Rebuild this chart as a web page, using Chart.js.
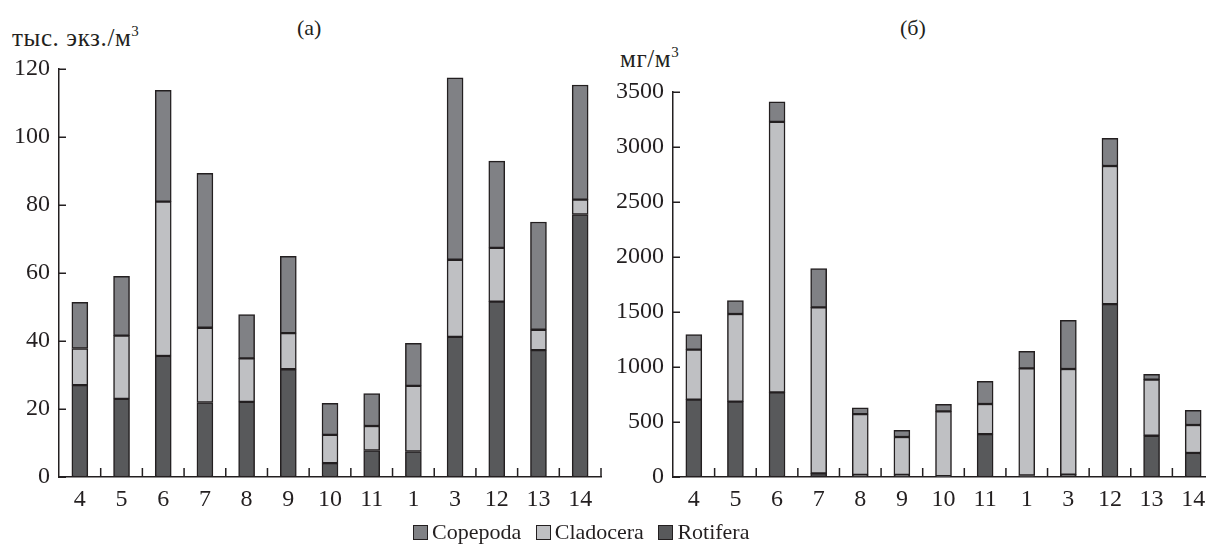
<!DOCTYPE html>
<html>
<head>
<meta charset="utf-8">
<script src="https://cdn.jsdelivr.net/npm/chart.js@4.4.1/dist/chart.umd.min.js"></script>
<style>
  html, body { margin: 0; padding: 0; background: #fff; }
  body { position: relative; width: 1206px; height: 545px; overflow: hidden;
         font-family: "Liberation Serif", "Times New Roman", serif; color: #231f20; }
  canvas { position: absolute; top: 0; }
  .lbl { position: absolute; font-size: 22px; line-height: 1; white-space: nowrap; }
  .unit { font-size: 25px; letter-spacing: 0.6px; }
  .lbl sup { font-size: 15px; vertical-align: 0; position: relative; top: -10px; }
  #legend { position: absolute; left: 413px; top: 520px; font-size: 22px; line-height: 24px; white-space: nowrap; }
  #legend span.box { display: inline-block; width: 13px; height: 13px; border: 1.5px solid #231f20;
                     vertical-align: -1px; margin-right: 4px; }
  #legend span.item { margin-right: 9px; }
</style>
</head>
<body>
<div class="lbl" style="left:297px; top:17px;">(a)</div>
<div class="lbl" style="left:900px; top:17px;">(б)</div>
<div class="lbl unit" style="left:12px; top:25px;">тыс. экз./м<sup>3</sup></div>
<div class="lbl unit" style="left:620px; top:46px;">мг/м<sup>3</sup></div>

<canvas id="chartA" width="610" height="545" style="left:0"></canvas>
<canvas id="chartB" width="620" height="545" style="left:600px"></canvas>

<div id="legend">
  <span class="item"><span class="box" style="background:#808185"></span>Copepoda</span>
  <span class="item"><span class="box" style="background:#bfc0c3"></span>Cladocera</span>
  <span class="item"><span class="box" style="background:#58595b"></span>Rotifera</span>
</div>

<script>
'use strict';

// station order as on the figure
const stations = ['4', '5', '6', '7', '8', '9', '10', '11', '1', '3', '12', '13', '14'];

// (a) abundance, thousand ind./m3
const abundRotifera  = [27.0, 23.0, 35.6, 21.9, 22.1, 31.7, 4.1, 7.8, 7.5, 41.2, 51.6, 37.3, 77.2];
const abundCladocera = [10.8, 18.6, 45.4, 22.0, 12.8, 10.6, 8.3, 7.2, 19.3, 22.7, 15.8, 6.0, 4.4];
const abundCopepoda  = [13.6, 17.4, 32.7, 45.4, 12.9, 22.6, 9.3, 9.5, 12.5, 53.5, 25.5, 31.7, 33.7];

// (б) biomass, mg/m3
const biomRotifera  = [703, 685, 770, 33, 20, 20, 8, 390, 14, 22, 1572, 375, 218];
const biomCladocera = [455, 797, 2458, 1509, 551, 344, 589, 274, 974, 960, 1255, 510, 255];
const biomCopepoda  = [136, 121, 183, 352, 57, 60, 64, 206, 154, 442, 252, 48, 133];

const INK = '#231f20';
const COLORS = { Copepoda: '#808185', Cladocera: '#bfc0c3', Rotifera: '#58595b' };

Chart.defaults.font.family = '"Liberation Serif", "Times New Roman", serif';
Chart.defaults.color = INK;

/* ---------------------------------------------------------------
   small ticks drawn inwards (y values and category boundaries)
--------------------------------------------------------------- */
const innerTicks = {
  id: 'innerTicks',
  afterDraw(chart) {
    const { ctx, chartArea } = chart;
    const x = chart.scales.x;
    const y = chart.scales.y;
    ctx.save();
    ctx.strokeStyle = INK;
    ctx.lineWidth = 1.5;
    ctx.beginPath();
    y.ticks.forEach((t, i) => {
      const py = Math.round(y.getPixelForTick(i)) + 0.25;
      ctx.moveTo(chartArea.left, py);
      ctx.lineTo(chartArea.left + 7, py);
    });
    const step = x.getPixelForValue(1) - x.getPixelForValue(0);
    for (let i = 0; i < stations.length; i++) {
      const px = x.getPixelForValue(i) + step / 2;
      ctx.moveTo(px, chartArea.bottom);
      ctx.lineTo(px, chartArea.bottom - 9);
    }
    ctx.stroke();
    ctx.restore();
  }
};

function dataset(label, data) {
  return {
    label,
    data,
    backgroundColor: COLORS[label],
    borderColor: INK,
    borderWidth: 1.5,
    borderSkipped: false,
    barThickness: 16
  };
}

function makeChart(id, rot, clad, cop, yMax, yStep, axisWidth, pad) {
  return new Chart(document.getElementById(id), {
    type: 'bar',
    data: {
      labels: stations,
      datasets: [
        dataset('Rotifera', rot),
        dataset('Cladocera', clad),
        dataset('Copepoda', cop)
      ]
    },
    options: {
      responsive: false,
      animation: false,
      devicePixelRatio: 1,
      layout: { padding: pad },
      plugins: { legend: { display: false }, tooltip: { enabled: false } },
      scales: {
        x: {
          stacked: true,
          grid: { display: false, drawTicks: false, tickLength: 0 },
          border: { display: true, color: INK, width: 1.5 },
          ticks: { font: { size: 24 }, padding: 8, color: INK, maxRotation: 0, autoSkip: false },
          afterFit(scale) { scale.height = 40; }
        },
        y: {
          stacked: true,
          min: 0,
          max: yMax,
          grid: { display: false, drawTicks: false, tickLength: 0 },
          border: { display: true, color: INK, width: 1.5 },
          ticks: {
            stepSize: yStep, font: { size: 24 }, padding: 9, color: INK,
            callback: (v) => String(v)
          },
          afterFit(scale) { scale.width = axisWidth; }
        }
      }
    },
    plugins: [innerTicks]
  });
}

makeChart('chartA', abundRotifera, abundCladocera, abundCopepoda, 120, 20, 59,
  { left: 0, right: 9, top: 69, bottom: 28 });
makeChart('chartB', biomRotifera, biomCladocera, biomCopepoda, 3500, 500, 73,
  { left: 0, right: 6, top: 92, bottom: 28 });
</script>
</body>
</html>
